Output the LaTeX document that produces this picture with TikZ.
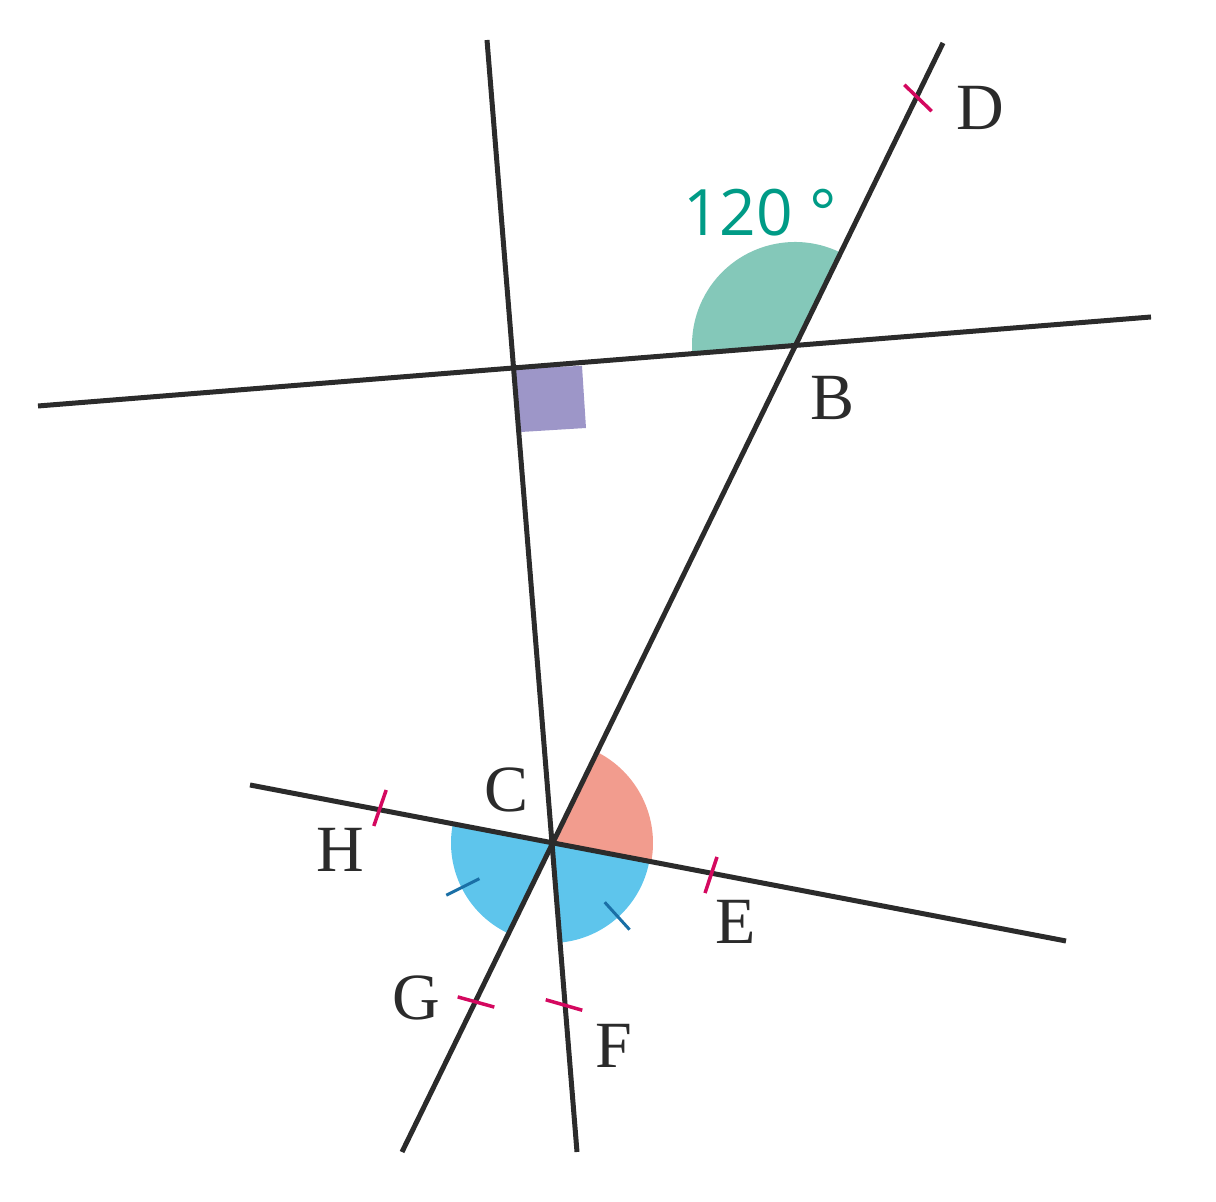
\documentclass[tikz,border=0pt]{standalone}
\usepackage{fontspec}
\usetikzlibrary{calc}
\newfontfamily\sansf{Open Sans}
\newfontfamily\serf{Liberation Serif}
\definecolor{lnc}{HTML}{2B2B2B}
\definecolor{grn}{HTML}{84C8B9}
\definecolor{pur}{HTML}{9D96C8}
\definecolor{sal}{HTML}{F29C8E}
\definecolor{blu}{HTML}{5EC5EC}
\definecolor{pnk}{HTML}{D4085F}
\definecolor{tea}{HTML}{009B86}
\definecolor{dbl}{HTML}{1A6FA6}
\begin{document}
\begin{tikzpicture}[x=1pt,y=1pt,
  ln/.style={draw=lnc,line width=5pt},
  pt/.style={draw=pnk,line width=3.5pt},
  bt/.style={draw=dbl,line width=3pt},
  lab/.style={text=lnc,font=\serf\fontsize{66}{66}\selectfont,inner sep=0pt}]
\useasboundingbox (0,0) rectangle (1216,1202);
\coordinate (A) at (512,834);
\coordinate (B) at (795,857);
\coordinate (C) at (551,359);
\coordinate (v1) at (487,1162); \coordinate (v2) at (577,50);
\coordinate (d1) at (943,1159); \coordinate (d2) at (402,50);
\coordinate (h1) at (38,796); \coordinate (h2) at (1151,885);
\coordinate (l1) at (250,417); \coordinate (l2) at (1066,261);
% fills
\fill[grn] (B) -- ++(63.9:103) arc[start angle=63.9,end angle=184.6,radius=103] -- cycle;
\fill[pur] (514,834) -- (582,836) -- (586,774) -- (521,770) -- cycle;
\fill[sal] (C) -- ++(-10.8:102) arc[start angle=-10.8,end angle=63.9,radius=102] -- cycle;
\fill[blu] (C) -- ++(169.1:100) arc[start angle=169.1,end angle=243.9,radius=100] -- cycle;
\fill[blu] (C) -- ++(275.2:100) arc[start angle=275.2,end angle=349.2,radius=100] -- cycle;
\draw[bt] ($(C)+(206.5:80)$) -- ($(C)+(206.5:117)$);
\draw[bt] ($(C)+(312.2:80)$) -- ($(C)+(312.2:117)$);
% lines
\draw[ln] (v1) -- (v2);
\draw[ln] (d1) -- (d2);
\draw[ln] (h1) -- (h2);
\draw[ln] (l1) -- (l2);
% ticks
\foreach \x/\y/\t in {918/1104/-44, 476/200/-15.5, 564/197/-16, 380/394/71, 711/327/71.6}
  \draw[pt] ($(\x,\y)+(\t:19)$) -- ($(\x,\y)+(\t+180:19)$);
% labels
\node[lab] (lD) at (980,1094) {D};
\node[lab] (lB) at (833,804) {B};
\node[lab] (lC) at (507,412) {C};
\node[lab] (lH) at (340,352) {H};
\node[lab] (lE) at (736,280) {E};
\node[lab] (lG) at (416,204) {G};
\node[lab] (lF) at (614,156) {F};
\node[text=tea,font=\sansf\fontsize{64}{64}\selectfont,inner sep=0pt] (ang) at (760,989) {120 °};
\end{tikzpicture}
\end{document}
